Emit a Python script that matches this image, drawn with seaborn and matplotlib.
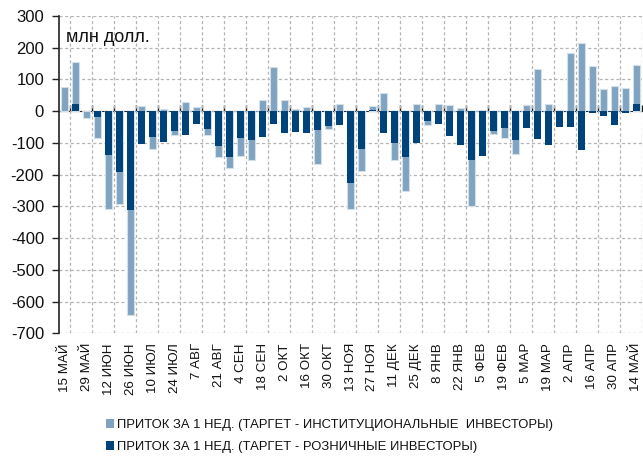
import matplotlib
matplotlib.use("Agg")
import matplotlib.pyplot as plt
from matplotlib.patches import Patch
import seaborn as sns
import pandas as pd

weeks = ["15 МАЙ", "22 МАЙ", "29 МАЙ", "5 ИЮН", "12 ИЮН", "19 ИЮН", "26 ИЮН", "3 ИЮЛ",
         "10 ИЮЛ", "17 ИЮЛ", "24 ИЮЛ", "31 ИЮЛ", "7 АВГ", "14 АВГ", "21 АВГ", "28 АВГ",
         "4 СЕН", "11 СЕН", "18 СЕН", "25 СЕН", "2 ОКТ", "9 ОКТ", "16 ОКТ", "23 ОКТ",
         "30 ОКТ", "6 НОЯ", "13 НОЯ", "20 НОЯ", "27 НОЯ", "4 ДЕК", "11 ДЕК", "18 ДЕК",
         "25 ДЕК", "1 ЯНВ", "8 ЯНВ", "15 ЯНВ", "22 ЯНВ", "29 ЯНВ", "5 ФЕВ", "12 ФЕВ",
         "19 ФЕВ", "26 ФЕВ", "5 МАР", "12 МАР", "19 МАР", "26 МАР", "2 АПР", "9 АПР",
         "16 АПР", "23 АПР", "30 АПР", "7 МАЙ", "14 МАЙ"]

institutional = [75, 154, -20, -86, -309, -291, -641, 15, -120, 6, -75, 30, 13, -74,
                 -145, -180, -141, -153, 36, 140, 34, 7, 14, -168, -57, 23, -307, -187,
                 17, 58, -153, -250, 23, -43, 22, 20, 10, -298, 4, -73, -84, -135, 19,
                 132, 22, 4, 183, 214, 143, 70, 80, 73, 145]

retail = [0, 23, 0, -19, -138, -191, -311, -103, -81, -96, -63, -74, -41, -57,
          -109, -144, -86, -92, -80, -41, -69, -67, -69, -59, -46, -44, -226, -120,
          5, -70, -100, -144, -101, -30, -39, -79, -106, -153, -142, -64, -52, -90, -54,
          -89, -107, -49, -50, -123, -7, -16, -45, -6, 23]

label_inst = "ПРИТОК ЗА 1 НЕД. (ТАРГЕТ - ИНСТИТУЦИОНАЛЬНЫЕ  ИНВЕСТОРЫ)"
label_ret = "ПРИТОК ЗА 1 НЕД. (ТАРГЕТ - РОЗНИЧНЫЕ ИНВЕСТОРЫ)"
unit_text = "млн долл."

yticks = list(range(-700, 301, 100))

LIGHT = "#7fa3c0"
DARK = "#00427a"

sns.set_style("white")
plt.rcParams["font.family"] = ["Liberation Sans", "DejaVu Sans"]

df = pd.DataFrame({"week": weeks, "inst": institutional, "ret": retail})

fig = plt.figure(figsize=(6.43, 4.57), dpi=100)
ax = fig.add_axes([59.3 / 643, 1 - 333.3 / 457, (641.7 - 59.3) / 643, (333.3 - 16) / 457])

sns.barplot(data=df, x="week", y="inst", color=LIGHT, saturation=1, width=0.62,
            edgecolor="#d3e0ea", linewidth=0.8, ax=ax, zorder=2)
sns.barplot(data=df, x="week", y="ret", color=DARK, saturation=1, width=0.62,
            linewidth=0, ax=ax, zorder=3)

n = len(weeks)
ax.set_xlim(-0.5, n - 0.5)
ax.set_ylim(-700, 300)
ax.set_yticks(yticks)
ax.set_yticklabels([str(v) for v in yticks], fontsize=12, color="#111111")
ax.set_xlabel("")
ax.set_ylabel("")

ax.set_xticks(range(0, n, 2))
ax.set_xticklabels(weeks[::2], rotation=90, fontsize=9.6, va="top", ha="center",
                   color="#111111")
ax.tick_params(axis="x", length=0, pad=7)
ax.tick_params(axis="y", direction="out", length=5, width=1, pad=6, color="#222222",
               left=True)

# grid
for v in yticks:
    ax.axhline(v, color="#b5b5b5", lw=0.9, ls=(0, (2.5, 2)), zorder=1)
for b in [i + 0.5 for i in range(0, n, 2)]:
    ax.axvline(b, color="#b5b5b5", lw=0.9, ls=(0, (2.5, 2)), zorder=1)

for s in ["top", "right", "bottom"]:
    ax.spines[s].set_visible(False)
ax.spines["left"].set_color("#222222")
ax.spines["left"].set_linewidth(1.2)

# zero axis with boundary ticks
zero_frac = (0 - (-700)) / 1000
sec = ax.secondary_xaxis(zero_frac)
sec.set_xticks([i + 0.5 for i in range(0, n, 2)])
sec.set_xticklabels([])
sec.tick_params(direction="out", length=4, width=1, color="#222222")
sec.spines["bottom"].set_color("#111111")
sec.spines["bottom"].set_linewidth(1.4)
sec.spines["bottom"].set_zorder(4)

fig.text(66 / 643, 1 - 37 / 457, unit_text, fontsize=13, va="center",
         ha="left", color="#111111")

handles = [Patch(facecolor=LIGHT, edgecolor="none", label=label_inst),
           Patch(facecolor=DARK, edgecolor="none", label=label_ret)]
leg = fig.legend(handles=handles, loc="upper left", bbox_to_anchor=(106 / 643, 1 - 419 / 457),
                 frameon=False, prop={"size": 9.4},
                 handlelength=0.65, handleheight=0.65, handletextpad=0.2, labelspacing=0.75,
                 borderaxespad=0, borderpad=0)
for t in leg.get_texts():
    t.set_color("#111111")

fig.savefig("out.png", dpi=100)
